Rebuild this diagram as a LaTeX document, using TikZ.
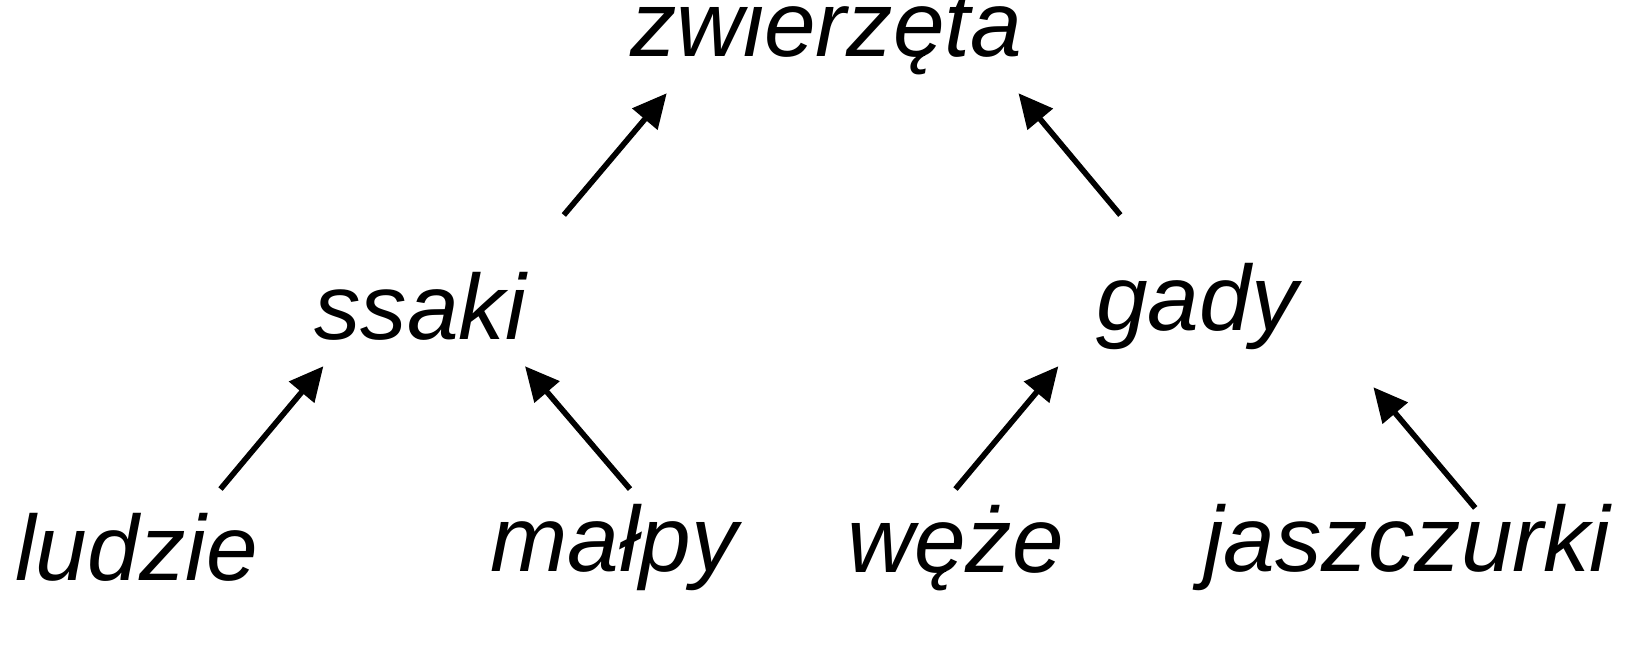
\documentclass[tikz,border=0pt]{standalone}
\usepackage{fontspec}
\setmainfont{Liberation Sans}
\usetikzlibrary{arrows.meta}

\tikzset{
    takson/.style={font=\fontsize{26.4}{30}\selectfont\itshape, inner sep=0pt},
    strzalka/.style={-{Triangle[length=0.34cm, width=0.32cm]}, line width=1.6pt}
}

\begin{document}
\begin{tikzpicture}[x=1.05cm, y=1.05cm]
        % Wezly
        \node[takson] (zwierzeta) at (7.87,5.94) {zwierzęta};
        \node[takson] (ssaki) at (4.00,3.33) {ssaki};
        \node[takson] (gady) at (11.40,3.33) {gady};
        \node[takson] (ludzie) at (1.30,1.03) {ludzie};
        \node[takson] (malpy) at (5.85,1.03) {małpy};
        \node[takson] (weze) at (9.10,1.03) {węże};
        \node[takson] (jaszczurki) at (13.40,1.03) {jaszczurki};

        % Konce strzalek
        \coordinate (ss-a) at (5.37,4.20); \coordinate (ss-b) at (6.35,5.36);
        \coordinate (ga-a) at (10.67,4.20); \coordinate (ga-b) at (9.70,5.36);
        \coordinate (lu-a) at (2.10,1.59); \coordinate (lu-b) at (3.08,2.76);
        \coordinate (ma-a) at (6.00,1.59); \coordinate (ma-b) at (5.00,2.76);
        \coordinate (we-a) at (9.10,1.59); \coordinate (we-b) at (10.08,2.76);
        \coordinate (ja-a) at (14.05,1.41); \coordinate (ja-b) at (13.08,2.56);

        % Strzalki
        \foreach \s in {ss,ga,lu,ma,we,ja}
            \draw[strzalka] (\s-a) -- (\s-b);

        \pgfresetboundingbox
        \useasboundingbox (0,0) rectangle (15.686,6.248);
    \end{tikzpicture}
\end{document}
